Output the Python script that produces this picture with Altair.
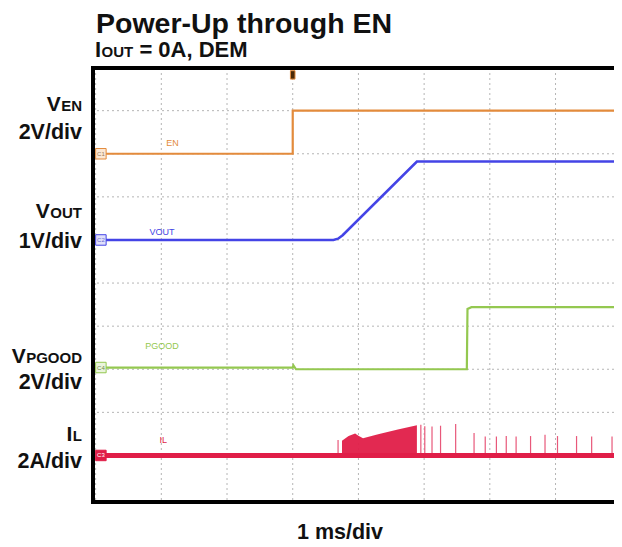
import altair as alt
import pandas as pd

# ---- time base: oscilloscope divisions (1 ms/div), vertical: divisions ----
EN_X = [0.08, 3.0, 3.0, 7.95]
EN_Y = [8.0, 8.0, 9.0, 9.0]

VOUT_X = [0.08, 3.62, 3.69, 3.76, 4.89, 7.95]
VOUT_Y = [6.0, 6.0, 6.03, 6.11, 7.82, 7.82]

PG_X = [0.08, 3.0, 3.01, 3.05, 5.65, 5.66, 5.72, 7.95]
PG_Y = [3.04, 3.04, 3.09, 3.0, 3.0, 4.40, 4.44, 4.44]

IL_X = [0.08, 7.95]
IL_Y = [1.0, 1.0]

BURST_X = [3.75, 3.85, 3.95, 4.0, 4.07, 4.3, 4.6, 4.89]
BURST_Y = [1.34, 1.45, 1.51, 1.46, 1.40, 1.49, 1.60, 1.70]

SPIKE_X = [3.69, 4.95, 5.01, 5.12, 5.25, 5.48, 5.76, 5.93, 6.10, 6.25, 6.40, 6.62, 6.84, 7.03, 7.32, 7.55, 7.86]
SPIKE_Y = [1.36, 1.71, 1.68, 1.67, 1.69, 1.73, 1.52, 1.44, 1.44, 1.45, 1.44, 1.45, 1.48, 1.45, 1.45, 1.44, 1.44]

GRID_X = [0, 1, 2, 3, 4, 5, 6, 7]
GRID_Y = [1, 2, 3, 4, 5, 6, 7, 8, 9]

CH_NAMES = ["EN", "VOUT", "PGOOD", "IL"]
CH_LEVEL = [8.0, 6.0, 3.04, 1.0]
CH_TAG = ["C1", "C2", "C4", "C3"]
CH_COLOR = ["#E38B3C", "#4444E6", "#94C850", "#E01E48"]
CH_TAGFILL = ["#FCE8D4", "#E0E0FA", "#EAF4DC", "#E01E48"]
LBL_X = [1.17, 1.01, 1.01, 1.03]
LBL_Y = [8.25, 6.19, 3.54, 1.36]

TRIG_X = [3.0]
TRIG_Y = [9.83]

XD = [-0.04, 7.89]
YD = [-0.08, 9.99]
W, H = 521, 434
PAD_L, PAD_T = 85, 60

xs = alt.Scale(domain=XD, nice=False, zero=False)
ys = alt.Scale(domain=YD, nice=False, zero=False)


def X(f="x"):
    return alt.X(f"{f}:Q", scale=xs, axis=None)


def Y(f="y"):
    return alt.Y(f"{f}:Q", scale=ys, axis=None)


def line_df(xv, yv):
    return pd.DataFrame({"x": xv, "y": yv, "i": list(range(len(xv)))})


layers = []

# grid
layers.append(alt.Chart(pd.DataFrame({"x": GRID_X})).mark_rule(
    color="#b5b5b5", strokeWidth=1, strokeDash=[2, 3]).encode(x=X()))
layers.append(alt.Chart(pd.DataFrame({"y": GRID_Y})).mark_rule(
    color="#b5b5b5", strokeWidth=1, strokeDash=[2, 3]).encode(y=Y()))

# traces
for xv, yv, col, sw in [(EN_X, EN_Y, CH_COLOR[0], 2.2), (VOUT_X, VOUT_Y, CH_COLOR[1], 2.6),
                        (PG_X, PG_Y, CH_COLOR[2], 2.2)]:
    layers.append(alt.Chart(line_df(xv, yv)).mark_line(color=col, strokeWidth=sw, clip=True).encode(
        x=X(), y=Y(), order="i:Q"))

# inductor current
burst = pd.DataFrame({"x": BURST_X, "y": BURST_Y, "b": [1.0] * len(BURST_X)})
layers.append(alt.Chart(burst).mark_area(color=CH_COLOR[3], opacity=0.95, interpolate="linear").encode(
    x=X(), y=Y(), y2="b:Q"))
spikes = pd.DataFrame({"x": SPIKE_X, "y": SPIKE_Y, "b": [1.0] * len(SPIKE_X)})
layers.append(alt.Chart(spikes).mark_rule(color="#E8587A", strokeWidth=1.2).encode(
    x=X(), y=Y(), y2="b:Q"))
layers.append(alt.Chart(line_df(IL_X, IL_Y)).mark_line(color=CH_COLOR[3], strokeWidth=5, clip=True).encode(
    x=X(), y=Y(), order="i:Q"))

# channel tags at the left edge
tags = pd.DataFrame({"x": [0.08] * 4, "y": CH_LEVEL, "tag": CH_TAG,
                     "fill": CH_TAGFILL, "stroke": CH_COLOR,
                     "tc": ["#9a7a5a", "#6a6ad0", "#6a8a4a", "#ffffff"]})
layers.append(alt.Chart(tags).mark_point(shape="square", size=110, filled=True, strokeWidth=1, opacity=1).encode(
    x=X(), y=Y(), fill=alt.Fill("fill:N", scale=None), stroke=alt.Stroke("stroke:N", scale=None)))
layers.append(alt.Chart(tags).mark_text(fontSize=6, font="Liberation Sans").encode(
    x=X(), y=Y(), text="tag:N", color=alt.Color("tc:N", scale=None)))

# trace labels
lbl = pd.DataFrame({"x": LBL_X, "y": LBL_Y, "t": CH_NAMES, "c": CH_COLOR})
layers.append(alt.Chart(lbl).mark_text(fontSize=9, font="Liberation Sans").encode(
    x=X(), y=Y(), text="t:N", color=alt.Color("c:N", scale=None)))

# trigger marker
layers.append(alt.Chart(pd.DataFrame({"x": TRIG_X, "y": TRIG_Y})).mark_point(
    shape="M-0.55,-1L0.55,-1L0.55,1L-0.55,1Z", size=70, filled=True, fill="#4a2a08",
    stroke="#E38B3C", strokeWidth=1, opacity=1).encode(x=X(), y=Y()))

# frame (left, top, bottom)
FR = "#000000"
layers.append(alt.Chart(pd.DataFrame({"a": [0]})).mark_rule(color=FR, strokeWidth=4).encode(
    x=alt.value(0), y=alt.value(-2), y2=alt.value(H + 2)))
layers.append(alt.Chart(pd.DataFrame({"a": [0]})).mark_rule(color=FR, strokeWidth=4).encode(
    x=alt.value(-2), x2=alt.value(W + 10), y=alt.value(0)))
layers.append(alt.Chart(pd.DataFrame({"a": [0]})).mark_rule(color=FR, strokeWidth=4).encode(
    x=alt.value(-2), x2=alt.value(W + 10), y=alt.value(H)))

# ---- text outside the plot ----
AW = {" ": 278, "=": 584, "0": 556, "1": 556, "2": 556, "A": 722, ",": 278, "D": 722, "E": 667,
      "M": 833, "N": 722, "O": 778, "U": 722, "T": 611, "P": 667, "G": 778, "L": 611, "I": 278,
      "V": 667, "/": 278, "d": 611, "i": 278, "v": 556, "m": 889, "s": 556}


def tw(s, size):
    return sum(AW[c] for c in s) * size / 1000.0


texts = []  # (text, page_x, page_baseline, size, align)
TITLE = "Power-Up through EN"
texts.append((TITLE, 96, 33, 28.5, "left"))
# subtitle  I_OUT = 0A, DEM
sx = 95
texts.append(("I", sx, 57, 22, "left"))
sx += tw("I", 22) + 0.5
texts.append(("OUT", sx, 57, 15, "left"))
sx += tw("OUT", 15) + tw(" ", 22)
texts.append(("= 0A, DEM", sx, 57, 22, "left"))

RX = 82
LEFT = [("V", "EN", 111, "2V/div", 139),
        ("V", "OUT", 218, "1V/div", 248),
        ("V", "PGOOD", 363, "2V/div", 389),
        ("I", "L", 441, "2A/div", 468)]
for big, small, b1, per, b2 in LEFT:
    texts.append((small, RX, b1, 15, "right"))
    texts.append((big, RX - tw(small, 15) - 0.5, b1, 21, "right"))
    texts.append((per, RX, b2, 21.5, "right"))

texts.append(("1 ms/div", 340, 539, 21.5, "center"))

for t, px, pb, sz, al in texts:
    layers.append(alt.Chart(pd.DataFrame({"t": [t]})).mark_text(
        font="Liberation Sans", fontWeight="bold", fontSize=sz, align=al, baseline="alphabetic",
        color="#111111").encode(
        x=alt.value(px - 8 - PAD_L), y=alt.value(pb - 8 - PAD_T), text="t:N"))

chart = alt.layer(*layers).properties(
    width=W, height=H,
    padding={"left": PAD_L, "top": PAD_T, "right": 0, "bottom": 539 - PAD_T - H},
    autosize=alt.AutoSizeParams(type="none"),
    background="white",
).configure_view(stroke=None)

chart.save("out.html", embed_options={"renderer": "svg", "actions": False})
